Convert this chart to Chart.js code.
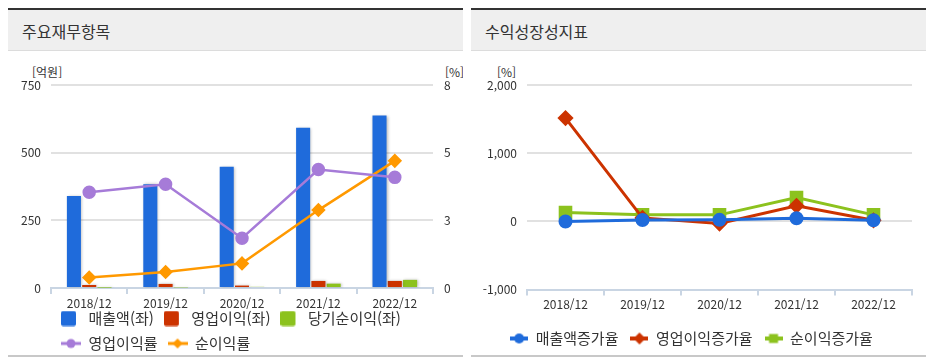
<!DOCTYPE html>
<html lang="ko">
<head>
<meta charset="UTF-8">
<title>주요재무항목 / 수익성장성지표</title>
<script src="https://cdn.jsdelivr.net/npm/chart.js"></script>
<style>
  body { margin: 0; background: #fff; font-family: "Noto Sans CJK KR", sans-serif; color: #333; }
  .panel { position: absolute; top: 8px; width: 455px; height: 353px; overflow: hidden; }
  .head { height: 40px; border-top: 2px solid #333; border-bottom: 1px solid #dcdcdc; background: #efefef;
          font-size: 16px; line-height: 43px; padding-left: 14px; }
  .unit { position: absolute; top: 55px; font-size: 12px; }
  .panel canvas { position: absolute; left: 0; top: 43px; }
  .foot { position: absolute; left: 0; top: 347px; width: 455px; height: 2px; background: #c8c8c8; z-index: 2; }
</style>
</head>
<body>
<div class="panel" style="left:8px">
  <div class="head">주요재무항목</div>
  <div class="unit" style="left:24px">[억원]</div>
  <div class="unit" style="left:437px">[%]</div>
  <canvas id="finChart" width="455" height="330"></canvas>
  <div class="foot"></div>
</div>
<div class="panel" style="left:471px">
  <div class="head">수익성장성지표</div>
  <div class="unit" style="left:26px">[%]</div>
  <canvas id="growthChart" width="455" height="310"></canvas>
  <div class="foot"></div>
</div>

<script>
    // values
    const years = ['2018/12', '2019/12', '2020/12', '2021/12', '2022/12'];
    const sales = [340, 383, 448, 592, 637];          // 매출액 (억원)
    const opIncome = [11, 15, 9, 26, 26];             // 영업이익 (억원)
    const netIncome = [1.4, 2.4, 4.3, 16, 30];        // 당기순이익 (억원)
    const opMargin = [3.77, 4.09, 1.96, 4.67, 4.36];  // 영업이익률 (%)
    const netMargin = [0.41, 0.63, 0.97, 3.07, 5.01]; // 순이익률 (%)
    const salesGrowth = [-3, 20, 22, 45, 15];         // 매출액증가율 (%)
    const opGrowth = [1515, 50, -32, 228, 15];        // 영업이익증가율 (%)
    const netGrowth = [130, 95, 95, 350, 95];         // 순이익증가율 (%)

    const FONT = '"Noto Sans CJK KR", sans-serif';
    const BLUE = '#1f6bdb', RED = '#cc3300', GREEN = '#8cc21e', PURPLE = '#a67bd8', ORANGE = '#ff9900';
    const AXIS = '#c9d5e3', GRID = '#e1e1e1';

    // small legend icons: a box for bars, a line with its marker for lines
    function icon(kind, color, w, h, lw, r) {
        const c = document.createElement('canvas');
        c.width = w; c.height = h;
        const g = c.getContext('2d');
        g.fillStyle = color; g.strokeStyle = color;
        const cx = w / 2, cy = h / 2;
        if (kind === 'box') {
            g.beginPath(); g.roundRect(0, 0.5, 15, 15, 2); g.fill();
            return c;
        }
        g.lineWidth = lw;
        g.beginPath(); g.moveTo(0, cy); g.lineTo(w, cy); g.stroke();
        g.beginPath();
        if (kind === 'circle') g.arc(cx, cy, r, 0, Math.PI * 2);
        if (kind === 'diamond') { g.moveTo(cx, cy - r); g.lineTo(cx + r, cy); g.lineTo(cx, cy + r); g.lineTo(cx - r, cy); g.closePath(); }
        if (kind === 'square') g.rect(cx - r, cy - r, 2 * r, 2 * r);
        g.fill();
        return c;
    }

    function legendWith(icons) {
        return chart => Chart.defaults.plugins.legend.labels.generateLabels(chart)
            .sort((a, b) => a.datasetIndex - b.datasetIndex)
            .map(item => Object.assign(item, { pointStyle: icons[item.datasetIndex] }));
    }

    // soft grey halo around the bars
    const barShadow = {
        id: 'barShadow',
        beforeDatasetDraw(chart, args) {
            if (args.meta.type !== 'bar') return;
            const c = chart.ctx;
            c.save();
            c.shadowColor = 'rgba(0,0,0,0.28)';
            c.shadowBlur = 3;
            c.shadowOffsetX = 1;
        },
        afterDatasetDraw(chart, args) {
            if (args.meta.type === 'bar') chart.ctx.restore();
        }
    };

    // pull the legend up so it sits tight under the x labels
    const legendLift = {
        id: 'legendLift',
        afterLayout(chart, args, opts) {
            const lg = chart.legend;
            if (!lg || opts.top == null) return;
            const h = lg.bottom - lg.top;
            lg.top = opts.top;
            lg.bottom = opts.top + h;
        }
    };

    const tickFont = { family: FONT, size: 12 };
    const xAxis = (h) => ({
        offset: true,
        grid: { offset: true, drawOnChartArea: false, tickLength: 6, color: AXIS, lineWidth: 2 },
        border: { color: AXIS, width: 2 },
        ticks: { color: '#333', font: tickFont, padding: 2, maxRotation: 0 },
        afterFit(s) { s.height = h; }
    });

    new Chart(document.getElementById('finChart'), {
        data: {
            labels: years,
            datasets: [
                { type: 'bar', label: '매출액(좌)', data: sales, backgroundColor: BLUE, yAxisID: 'y', order: 1 },
                { type: 'bar', label: '영업이익(좌)', data: opIncome, backgroundColor: RED, yAxisID: 'y', order: 1 },
                { type: 'bar', label: '당기순이익(좌)', data: netIncome, backgroundColor: GREEN, yAxisID: 'y', order: 1 },
                { type: 'line', label: '영업이익률', data: opMargin, borderColor: PURPLE, backgroundColor: PURPLE,
                  borderWidth: 2.5, pointStyle: 'circle', pointRadius: 5.5, yAxisID: 'y1', order: 0 },
                { type: 'line', label: '순이익률', data: netMargin, borderColor: ORANGE, backgroundColor: ORANGE,
                  borderWidth: 2.5, pointStyle: 'rectRot', pointRadius: 5.5, yAxisID: 'y1', order: 0 }
            ]
        },
        options: {
            responsive: false,
            animation: false,
            layout: { padding: { top: 34, bottom: 9, left: 0, right: 0 } },
            datasets: { bar: { categoryPercentage: 0.6, barPercentage: 0.92 } },
            scales: {
                x: xAxis(24),
                y: {
                    position: 'left', min: 0, max: 750,
                    ticks: { stepSize: 250, padding: 10, color: '#333', font: tickFont },
                    grid: { color: GRID, lineWidth: 2, drawTicks: false },
                    border: { display: false },
                    afterFit(s) { s.width = 43; }
                },
                y1: {
                    position: 'right', min: 0, max: 8,
                    ticks: { count: 4, padding: 11, color: '#333', font: tickFont, callback: v => Math.round(v) },
                    grid: { display: false, drawTicks: false },
                    border: { display: false },
                    afterFit(s) { s.width = 30; }
                }
            },
            plugins: {
                tooltip: { enabled: false },
                legendLift: { top: 250 },
                legend: {
                    position: 'bottom', align: 'start', fullSize: false,
                    labels: {
                        usePointStyle: true, pointStyleWidth: 20, padding: 10, color: '#333',
                        font: { family: FONT, size: 15 },
                        generateLabels: legendWith([
                            icon('box', BLUE, 20, 16), icon('box', RED, 20, 16), icon('box', GREEN, 20, 16),
                            icon('circle', PURPLE, 20, 12, 3, 4.5), icon('diamond', ORANGE, 20, 12, 3, 5)
                        ])
                    }
                }
            }
        },
        plugins: [barShadow, legendLift]
    });

    new Chart(document.getElementById('growthChart'), {
        type: 'line',
        data: {
            labels: years,
            datasets: [
                { label: '매출액증가율', data: salesGrowth, borderColor: BLUE, backgroundColor: BLUE,
                  borderWidth: 3, pointStyle: 'circle', pointRadius: 5.5 },
                { label: '영업이익증가율', data: opGrowth, borderColor: RED, backgroundColor: RED,
                  borderWidth: 3, pointStyle: 'rectRot', pointRadius: 6 },
                { label: '순이익증가율', data: netGrowth, borderColor: GREEN, backgroundColor: GREEN,
                  borderWidth: 3, pointStyle: 'rect', pointRadius: 7.5 }
            ]
        },
        options: {
            responsive: false,
            animation: false,
            layout: { padding: { top: 34, bottom: 5, left: 0, right: 14 } },
            scales: {
                x: xAxis(29.5),
                y: {
                    min: -1000, max: 2000,
                    ticks: { stepSize: 1000, padding: 10, color: '#333', font: tickFont,
                             callback: v => v.toLocaleString('en-US') },
                    grid: { color: GRID, lineWidth: 2, drawTicks: false },
                    border: { display: false },
                    afterFit(s) { s.width = 56; }
                }
            },
            plugins: {
                tooltip: { enabled: false },
                legend: {
                    position: 'bottom', align: 'center',
                    labels: {
                        usePointStyle: true, pointStyleWidth: 18, padding: 12, color: '#333',
                        font: { family: FONT, size: 15 },
                        generateLabels: legendWith([
                            icon('circle', BLUE, 18, 12, 4, 5), icon('diamond', RED, 18, 14, 4, 6), icon('square', GREEN, 18, 12, 4, 4.5)
                        ])
                    }
                }
            }
        }
    });
</script>
</body>
</html>
